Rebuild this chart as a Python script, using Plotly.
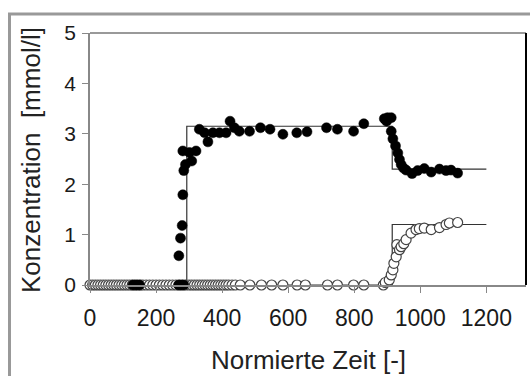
import plotly.graph_objects as go

# Measured concentrations (filled circles)
t_filled = [130, 140, 150, 268, 276, 284,
            269, 274, 279, 281, 284, 289, 281, 301, 308, 321,
            331, 347, 357, 372, 392, 412, 424, 437, 452, 483, 516, 545,
            584, 626, 657, 716, 749, 798, 829,
            891, 898, 901, 912, 912, 917, 925, 932, 937, 942, 949, 957,
            975, 992, 1012, 1033, 1058, 1078, 1093, 1113]
c_filled = [0, 0, 0, 0, 0, 0,
            0.58, 0.93, 1.18, 1.79, 2.27, 2.39, 2.66, 2.63, 2.46, 2.66,
            3.09, 3.02, 2.84, 3.02, 3.02, 3.02, 3.25, 3.12, 3.05, 3.05, 3.12, 3.09,
            2.99, 3.02, 3.04, 3.12, 3.09, 3.05, 3.20,
            3.30, 3.25, 3.32, 3.32, 3.05, 2.90, 2.76, 2.62, 2.49, 2.39, 2.32, 2.28,
            2.21, 2.27, 2.31, 2.24, 2.30, 2.27, 2.28, 2.22]

# Measured concentrations (open circles)
t_open = [0, 8, 16, 24, 32, 40, 48, 56, 64, 72, 80, 88, 96, 104, 112, 120,
          128, 136, 144, 152, 160, 170, 180, 190, 200, 210, 220, 230, 240, 250,
          260, 270, 280, 290, 300, 308, 316, 324, 332, 340, 348, 356, 364, 372,
          380, 388, 396, 404, 412, 420, 430, 440, 455, 484, 519, 550, 584, 627,
          652, 719, 749, 798, 829, 888,
          894, 906, 912, 917, 920, 927, 929, 937, 942, 950, 957, 972, 987, 997,
          1012, 1033, 1058, 1078, 1088, 1113]
c_open = [0] * 64 + [0.05, 0.10, 0.20, 0.30, 0.43, 0.56, 0.80, 0.70, 0.76, 0.82,
                     0.90, 1.03, 1.10, 1.12, 1.13, 1.10, 1.14, 1.20, 1.23, 1.24]

# Model step curves
t_model1 = [0, 293, 293, 915, 915, 1200]
c_model1 = [0, 0, 3.15, 3.15, 2.30, 2.30]
t_model2 = [0, 915, 915, 1200]
c_model2 = [0, 0, 1.20, 1.20]

x_ticks = [0, 200, 400, 600, 800, 1000, 1200]
y_ticks = [0, 1, 2, 3, 4, 5]

W, H = 530, 376
L, R, T, B = 90, 526, 33, 285  # plot-area edges in pixels
PW, PH = R - L, B - T


def px(x):
    return (x - L) / PW


def py(y):
    return (B - y) / PH


fig = go.Figure()
for tm, cm in [(t_model1, c_model1), (t_model2, c_model2)]:
    fig.add_trace(go.Scatter(x=tm, y=cm, mode="lines",
                             line=dict(color="#333333", width=1.2),
                             hoverinfo="skip", showlegend=False, cliponaxis=False))
fig.add_trace(go.Scatter(x=t_open, y=c_open, mode="markers", cliponaxis=False,
                         marker=dict(symbol="circle", size=10, color="white",
                                     line=dict(color="#444444", width=1.2)),
                         showlegend=False))
fig.add_trace(go.Scatter(x=t_filled, y=c_filled, mode="markers", cliponaxis=False,
                         marker=dict(symbol="circle", size=10, color="black",
                                     line=dict(color="black", width=0.5)),
                         showlegend=False))

axis_font = "Liberation Sans, Arial, sans-serif"
fig.update_layout(
    width=W, height=H,
    margin=dict(l=L, r=W - R, t=T, b=H - B, pad=0),
    paper_bgcolor="white", plot_bgcolor="white",
    xaxis=dict(range=[0, 1320], tickvals=x_ticks, showgrid=False, zeroline=False,
               showline=True, linecolor="#888888", linewidth=1.5,
               ticks="outside", ticklen=6, tickcolor="#888888", tickwidth=1,
               ticklabelstandoff=6,
               tickfont=dict(family=axis_font, size=23, color="#1a1a1a")),
    yaxis=dict(range=[0, 5], tickvals=y_ticks, showgrid=False, zeroline=False,
               showline=True, linecolor="#888888", linewidth=1.5,
               ticks="outside", ticklen=6, tickcolor="#888888", tickwidth=1,
               ticklabelstandoff=2,
               tickfont=dict(family=axis_font, size=21, color="#1a1a1a")),
    shapes=[
        # top edge of the plot box
        dict(type="line", xref="paper", yref="paper", x0=0, x1=1, y0=1, y1=1,
             line=dict(color="#999999", width=2)),
        # right edge of the plot box
        dict(type="line", xref="paper", yref="paper", x0=1, x1=1, y0=0, y1=1,
             line=dict(color="black", width=2)),
        # outer frame
        dict(type="rect", xref="paper", yref="paper",
             x0=px(9.5), x1=px(560), y0=py(400), y1=py(14),
             line=dict(color="#999999", width=3), fillcolor="rgba(0,0,0,0)"),
    ],
    annotations=[
        dict(text="Normierte Zeit [-]", xref="paper", yref="paper",
             x=px(308), y=py(360), showarrow=False, xanchor="center", yanchor="middle",
             font=dict(family=axis_font, size=26, color="#222222")),
        dict(text="Konzentration  [mmol/l]", xref="paper", yref="paper",
             x=px(31), y=py(160), showarrow=False, xanchor="center", yanchor="middle",
             textangle=-90,
             font=dict(family=axis_font, size=26, color="#222222")),
    ],
)

fig.write_html("out.html")
